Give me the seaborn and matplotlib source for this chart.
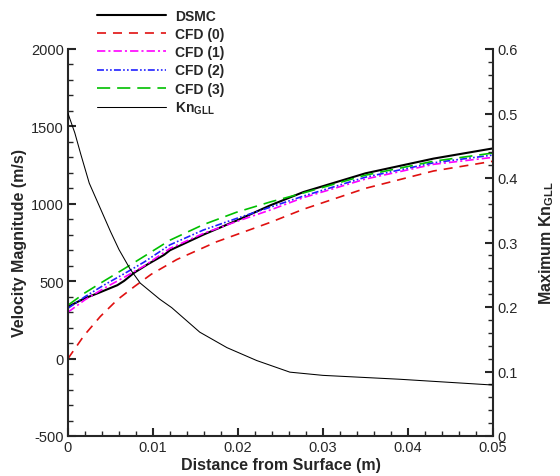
import numpy as np
import pandas as pd
import seaborn as sns
import matplotlib
matplotlib.use("Agg")
import matplotlib.pyplot as plt
from matplotlib.ticker import MultipleLocator

# ---------------- data ----------------
dsmc_x = [0, 0.0019, 0.0034, 0.0058, 0.0066, 0.0078, 0.0094, 0.0113, 0.012, 0.0159, 0.0198, 0.0238, 0.0277, 0.035, 0.043, 0.05]
dsmc_v = [335, 388, 420, 474, 502, 555, 610, 670, 700, 800, 891, 990, 1076, 1197, 1292, 1358]

cfd0_x = [0, 0.0019, 0.0038, 0.0058, 0.0078, 0.0098, 0.0128, 0.0175, 0.0238, 0.0277, 0.035, 0.043, 0.05]
cfd0_v = [0, 150, 272, 380, 465, 545, 640, 755, 880, 965, 1100, 1212, 1275]

cfd1_x = [0, 0.002, 0.0042, 0.0066, 0.009, 0.012, 0.0159, 0.0198, 0.0238, 0.0277, 0.035, 0.043, 0.05]
cfd1_v = [300, 380, 453, 525, 600, 712, 808, 885, 960, 1040, 1160, 1255, 1300]

cfd2_x = [0, 0.002, 0.0042, 0.0066, 0.009, 0.012, 0.0159, 0.0198, 0.0238, 0.0277, 0.035, 0.043, 0.05]
cfd2_v = [325, 400, 474, 548, 625, 735, 830, 905, 978, 1050, 1172, 1265, 1315]

cfd3_x = [0, 0.002, 0.0042, 0.0066, 0.009, 0.012, 0.0159, 0.0198, 0.0238, 0.0277, 0.035, 0.043, 0.05]
cfd3_v = [345, 425, 500, 580, 662, 765, 865, 945, 1012, 1070, 1185, 1275, 1328]

kn_x = [0, 0.0008, 0.0015, 0.0025, 0.004, 0.005, 0.006, 0.0073, 0.0085, 0.0108, 0.0122, 0.0155, 0.0187, 0.0222, 0.0261, 0.03, 0.039, 0.05]
kn_v = [0.50, 0.47, 0.437, 0.392, 0.347, 0.317, 0.289, 0.259, 0.237, 0.212, 0.199, 0.161, 0.137, 0.117, 0.099, 0.094, 0.088, 0.079]

labels = ["DSMC", "CFD (0)", "CFD (1)", "CFD (2)", "CFD (3)", r"$\mathbf{Kn_{GLL}}$"]

# ---------------- style ----------------
sns.set_style("ticks")
plt.rcParams["font.family"] = ["Liberation Sans", "DejaVu Sans"]
plt.rcParams["mathtext.fontset"] = "custom"
plt.rcParams["mathtext.rm"] = "Liberation Sans"
plt.rcParams["mathtext.bf"] = "Liberation Sans:bold"
plt.rcParams["lines.scale_dashes"] = False

fig = plt.figure(figsize=(5.6, 4.77), dpi=100)
ax = fig.add_axes([68 / 560, 40 / 477, 425 / 560, 387 / 477])
ax2 = ax.twinx()

series = [
    (dsmc_x, dsmc_v, "black", "-", 1.5),
    (cfd0_x, cfd0_v, "#e01010", (0, (6.5, 5)), 1.2),
    (cfd1_x, cfd1_v, "#ff00ff", (0, (6, 2.2, 1.5, 2.2)), 1.2),
    (cfd2_x, cfd2_v, "#2020ff", (0, (5, 1.6, 1.2, 1.6, 1.2, 1.6)), 1.2),
    (cfd3_x, cfd3_v, "#00c000", (0, (9.5, 5)), 1.2),
]
handles = []
for (xs, ys, c, ls, lw), lab in zip(series, labels[:5]):
    sns.lineplot(x=xs, y=ys, ax=ax, color=c, linestyle=ls, linewidth=lw, label=lab, legend=False)
    handles.append(ax.lines[-1])

sns.lineplot(x=kn_x, y=kn_v, ax=ax2, color="black", linewidth=0.75, legend=False)
handles.append(ax2.lines[-1])

ax.set_xlim(0, 0.05)
ax.set_ylim(-500, 2000)
ax2.set_ylim(0, 0.6)

ax.xaxis.set_minor_locator(MultipleLocator(0.002))
ax.yaxis.set_minor_locator(MultipleLocator(100))
ax2.yaxis.set_minor_locator(MultipleLocator(0.02))

ax.set_xticks([0, 0.01, 0.02, 0.03, 0.04, 0.05])
ax.set_xticklabels(["0", "0.01", "0.02", "0.03", "0.04", "0.05"])
ax.set_yticks([-500, 0, 500, 1000, 1500, 2000])
ax.set_yticklabels(["-500", "0", "500", "1000", "1500", "2000"])
ax2.set_yticks([0, 0.1, 0.2, 0.3, 0.4, 0.5, 0.6])
ax2.set_yticklabels(["0", "0.1", "0.2", "0.3", "0.4", "0.5", "0.6"])

for a in (ax, ax2):
    a.spines["top"].set_visible(False)
    for s in a.spines.values():
        s.set_linewidth(1.5)
ax.spines["right"].set_visible(False)
ax2.spines["left"].set_visible(False)
ax2.spines["bottom"].set_visible(False)

ax.tick_params(axis="both", which="major", direction="in", length=6, width=1.5, labelsize=10.5, pad=3)
ax.tick_params(axis="both", which="minor", direction="in", length=3.5, width=1.0)
ax.tick_params(axis="y", right=False, which="both")
ax.tick_params(axis="x", top=False, which="both")
ax2.tick_params(axis="y", which="major", direction="in", length=6, width=1.5, labelsize=10.5, pad=3)
ax2.tick_params(axis="y", which="minor", direction="in", length=3.5, width=1.0)

ax.set_xlabel("Distance from Surface (m)", fontsize=11.5, fontweight="bold", labelpad=2)
ax.set_ylabel("Velocity Magnitude (m/s)", fontsize=11.5, fontweight="bold", labelpad=3)
ax2.set_ylabel(r"Maximum Kn$_{\mathbf{GLL}}$", fontsize=11.5, fontweight="bold", labelpad=14)

fig.legend(handles, labels, loc="upper left", bbox_to_anchor=(97 / 560, 1 - 10 / 477),
           frameon=False, prop={"weight": "bold", "size": 10}, handlelength=5.0,
           handletextpad=0.65, labelspacing=0.3, borderpad=0, borderaxespad=0)

fig.savefig("out.png", dpi=100)
